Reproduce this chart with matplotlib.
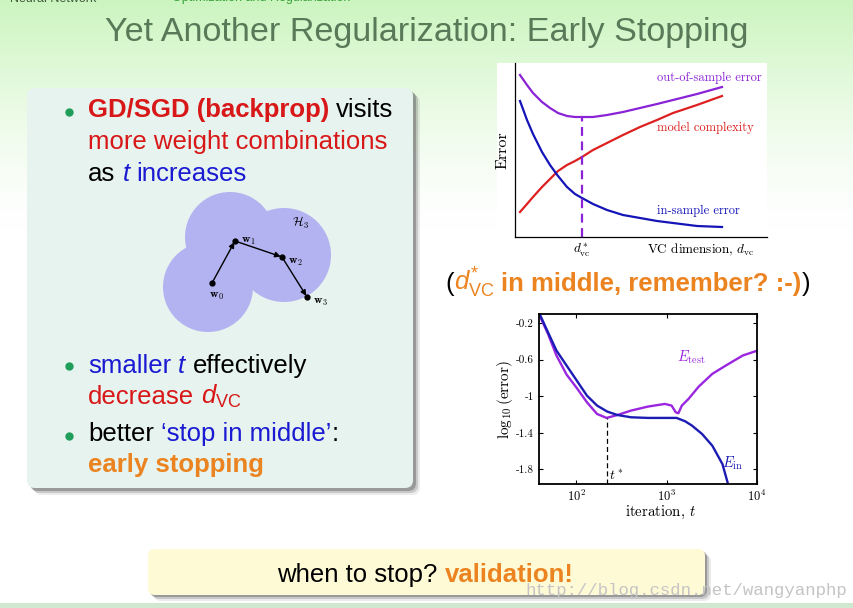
import numpy as np
import matplotlib
matplotlib.use('Agg')
import matplotlib.pyplot as plt
from matplotlib.patches import FancyBboxPatch, Circle, Rectangle

plt.rcParams['mathtext.fontset'] = 'cm'
plt.rcParams['mathtext.rm'] = 'Liberation Sans'
plt.rcParams['mathtext.it'] = 'Liberation Sans:italic'
plt.rcParams['mathtext.bf'] = 'Liberation Sans:bold'
plt.rcParams['axes.formatter.use_mathtext'] = True

W, H = 854, 608
SANS = ['Liberation Sans', 'DejaVu Sans']
SERIF = ['cmr10', 'DejaVu Serif']

RED = '#d81818'
BLUE = '#1a1ad2'
ORANGE = '#eb8420'
GREEN_DOT = '#1f9e5a'

# error vs VC dimension (sketch, arbitrary units)
vc_dim = [5, 12, 18, 27, 35, 43, 52, 60, 67, 78, 92, 108, 125, 142, 158, 182, 207]
in_sample = [136, 117, 103, 85, 72, 61, 50, 43, 39, 33, 27, 22, 19, 16, 14, 11, 10]
complexity = [25, 33, 40, 50, 58, 66, 72, 76, 80, 87, 94, 102, 110, 117, 124, 132, 141]
out_sample = [162, 152, 144, 135, 129, 124, 121, 120, 120, 120, 122, 125, 129, 133, 137, 143, 150]
vc_star = 67

# log10(error) vs log10(iteration)
log_iter_test = [1.588, 1.689, 1.783, 1.895, 2.007, 2.120, 2.232, 2.337, 2.457, 2.607,
                 2.794, 2.981, 3.056, 3.101, 3.131, 3.169, 3.243, 3.356, 3.506, 3.655,
                 3.843, 4.030]
err_test = [-0.098, -0.317, -0.554, -0.763, -0.909, -1.066, -1.194, -1.237, -1.205, -1.157,
            -1.113, -1.084, -1.102, -1.175, -1.186, -1.102, -1.029, -0.894, -0.755, -0.664,
            -0.554, -0.492]
log_iter_in = [1.596, 1.689, 1.783, 1.895, 2.007, 2.120, 2.232, 2.345, 2.457, 2.607,
               2.794, 2.981, 3.112, 3.206, 3.281, 3.393, 3.506, 3.618, 3.685]
err_in = [-0.098, -0.299, -0.500, -0.664, -0.828, -0.993, -1.102, -1.168, -1.205, -1.230,
          -1.237, -1.237, -1.237, -1.274, -1.321, -1.413, -1.541, -1.742, -1.979]
log_t_star = 2.337
err_ticks = [-0.2, -0.6, -1, -1.4, -1.8]
err_ticklabels = ['-0.2', '-0.6', '-1', '-1.4', '-1.8']
iter_exponents = [2, 3, 4]

fig = plt.figure(figsize=(W / 100, H / 100), dpi=100)
bg = fig.add_axes([0, 0, 1, 1])
bg.set_xlim(0, W)
bg.set_ylim(H, 0)
bg.axis('off')
renderer = fig.canvas.get_renderer()

# background gradient
rows = np.linspace(0, 1, H)[:, None]
fade = np.clip(1 - rows * H / 230, 0, 1) ** 1.4
top = np.array([0.80, 0.96, 0.75])
img = np.ones((H, 2, 3)) - fade[:, :, None] * (1 - top)
bg.imshow(img, extent=(0, W, H, 0), aspect='auto', zorder=0)
bg.add_patch(Rectangle((0, 603), W, 5, color='#cfe8cf', lw=0, zorder=1))

# header line, cut off at the top edge as in the slide
bg.text(10, 1.5, 'Neural Network', fontsize=9, family=SANS, color='#3f5a3f', va='baseline')
bg.text(172, 1.5, 'Optimization and Regularization', fontsize=9, family=SANS,
        color='#3aa23a', va='baseline')


def width_of(s, **kw):
    t = bg.text(0, 0, s, **kw)
    w = t.get_window_extent(renderer).width
    t.remove()
    return w


title = 'Yet Another Regularization: Early Stopping'
title_size = 28 * 643 / width_of(title, fontsize=28, family=SANS)
bg.text(427, 41, title, ha='center', va='baseline', fontsize=title_size,
        family=SANS, color='#587a58')


def rbox(x0, y0, x1, y1, r, **kw):
    return FancyBboxPatch((x0 + r, y0 + r), x1 - x0 - 2 * r, y1 - y0 - 2 * r,
                          boxstyle='round,pad=%g' % r, **kw)


# left box with shadow
for off, a in [(7, 0.12), (5, 0.25), (3, 0.45)]:
    bg.add_patch(rbox(27 + off, 88 + off, 413 + off, 488 + off, 8,
                      fc='#606060', ec='none', alpha=a, zorder=2))
bg.add_patch(rbox(27, 88, 413, 488, 8, fc='#e6f3ee', ec='none', zorder=3))

# banner with shadow
for off, a in [(6, 0.12), (4, 0.25), (2, 0.45)]:
    bg.add_patch(rbox(148 + off, 549 + off, 705 + off, 595 + off, 7,
                      fc='#606060', ec='none', alpha=a, zorder=2))
bg.add_patch(rbox(148, 549, 705, 595, 7, fc='#fffad6', ec='none', zorder=3))


def rich(x, y, parts, size):
    for p in parts:
        s, color = p[0], p[1]
        opt = dict(p[2]) if len(p) > 2 else {}
        kw = dict(fontsize=size, family=SANS, color=color, **opt)
        sp = width_of('a a', **kw) - width_of('aa', **kw)
        x += (len(s) - len(s.lstrip(' '))) * sp
        core = s.strip(' ')
        t = bg.text(x, y, core, va='baseline', ha='left', zorder=6, **kw)
        x += t.get_window_extent(renderer).width + (len(s) - len(s.rstrip(' '))) * sp
    return x


B = {'fontweight': 'bold'}
I = {'fontstyle': 'italic'}
M = {'math_fontfamily': 'custom'}
FS = 18.5
for yb in [112, 366, 436]:
    bg.plot(69, yb, 'o', ms=5, color=GREEN_DOT, zorder=6)
rich(88, 117, [('GD/SGD (backprop)', RED, B), (' visits', 'black')], FS)
rich(88, 149, [('more weight combinations', RED)], FS)
rich(88, 181, [('as ', 'black'), ('t', BLUE, I), (' increases', BLUE)], FS)
rich(88, 373, [('smaller ', BLUE), ('t', BLUE, I), (' effectively', 'black')], FS)
rich(88, 404, [('decrease ', RED), (r'$d_{\mathrm{VC}}$', RED, M)], FS)
rich(88, 441, [('better ', 'black'), ('\u2018stop in middle\u2019', BLUE), (':', 'black')], FS)
rich(88, 472, [('early stopping', ORANGE, B)], FS)

rich(445, 291, [('(', 'black'), (r'$d^{*}_{\mathrm{VC}}$', ORANGE, M),
                (' in middle, remember? :-)', ORANGE, B), (')', 'black')], FS)

rich(277, 582, [('when to stop? ', 'black'), ('validation!', ORANGE, B)], FS)

# hypothesis-set diagram
for cx, cy, r in [(230, 237, 45), (208, 287, 45), (284, 255, 47)]:
    bg.add_patch(Circle((cx, cy), r, fc='#b3b3f1', ec='none', zorder=4))
px = [212, 235, 282, 307]
py = [283, 241, 257, 297]
for i in range(3):
    bg.annotate('', xy=(px[i + 1], py[i + 1]), xytext=(px[i], py[i]),
                arrowprops=dict(arrowstyle='-|>', color='black', lw=1.0,
                                mutation_scale=8, shrinkA=0, shrinkB=1), zorder=5)
bg.plot(px, py, 'o', ms=3.5, color='black', zorder=5)
for i, (dx, dy) in enumerate([(-3, 12), (6, -1), (6, 4), (6, 5)]):
    bg.text(px[i] + dx, py[i] + dy, r'$\mathbf{w}_%d$' % i, fontsize=8.5,
            va='center', ha='left', zorder=6)
bg.text(292, 223, r'$\mathcal{H}_3$', fontsize=9, va='center', ha='left', zorder=6)

# top-right chart
bg.add_patch(Rectangle((497, 63), 270, 199, fc='white', ec='none', zorder=3))
ax1 = fig.add_axes([515 / W, 1 - 237 / H, 252 / W, 174 / H])
ax1.patch.set_alpha(0)
P1, R1, B1 = '#8a22d6', '#dd2020', '#1414b8'
ax1.plot(vc_dim, out_sample, color=P1, lw=1.6)
ax1.plot(vc_dim, complexity, color=R1, lw=1.6)
ax1.plot(vc_dim, in_sample, color=B1, lw=1.6)
ax1.plot([vc_star, vc_star], [0, out_sample[vc_dim.index(vc_star)]], ls=(0, (4, 2.5)),
         color=P1, lw=1.6)
ax1.set_xlim(0, 252)
ax1.set_ylim(0, 174)
ax1.set_xticks([])
ax1.set_yticks([])
for s in ['top', 'right']:
    ax1.spines[s].set_visible(False)
for s in ['left', 'bottom']:
    ax1.spines[s].set_linewidth(0.9)
ax1.text(142, 159, 'out-of-sample error', color=P1, family=SERIF, fontsize=9, va='center')
ax1.text(142, 109, 'model complexity', color=R1, family=SERIF, fontsize=9, va='center')
ax1.text(142, 26, 'in-sample error', color=B1, family=SERIF, fontsize=9, va='center')
bg.text(503, 150, 'Error', rotation=90, family=SERIF, fontsize=11.5, ha='center',
        va='center', zorder=6)
bg.text(647, 250, r'VC dimension, $d_{\rm vc}$', family=SERIF, fontsize=9.5,
        va='center', zorder=6)
bg.text(582, 250, r'$d^*_{\rm vc}$', fontsize=9.5, ha='center', va='center', zorder=6)

# bottom-right chart
P2, B2 = '#9a26e0', '#1c1cb4'
ax2 = fig.add_axes([539 / W, 1 - 484 / H, 218 / W, 170 / H])
ax2.patch.set_alpha(0)
ax2.semilogx(10 ** np.array(log_iter_test), err_test, color=P2, lw=1.7)
ax2.semilogx(10 ** np.array(log_iter_in), err_in, color=B2, lw=1.7)
ax2.plot([10 ** log_t_star] * 2, [-1.96, -1.237], ls=(0, (4, 2.5)), color='black', lw=0.9)
ax2.set_xlim(10 ** 1.59, 1e4)
ax2.set_ylim(-1.96, -0.10)
ax2.set_xticks([10.0 ** e for e in iter_exponents])
ax2.set_xticklabels([r'$10^{%d}$' % e for e in iter_exponents], fontsize=9)
ax2.set_yticks(err_ticks)
ax2.set_yticklabels(err_ticklabels, family=SERIF, fontsize=8)
ax2.minorticks_off()
ax2.tick_params(direction='in', top=True, right=True, length=3, width=0.8)
for s in ax2.spines.values():
    s.set_linewidth(1.3)
ax2.text(10 ** 3.27, -0.572, r'$E_{\rm test}$', color=P2, fontsize=10.5, ha='center',
         va='center')
ax2.text(10 ** 3.73, -1.73, r'$E_{\rm in}$', color=B2, fontsize=10.5, ha='center',
         va='center')
ax2.text(10 ** 2.36, -1.87, r'$t^*$', fontsize=10, ha='left', va='center')
bg.text(505, 400, r'$\log_{10}$(error)', rotation=90, family=SERIF, fontsize=11,
        ha='center', va='center', zorder=6)
bg.text(661, 512, r'iteration, $t$', family=SERIF, fontsize=10.7, ha='center',
        va='center', zorder=6)

# watermark
bg.text(525, 595, 'http://blog.csdn.net/wangyanphp', family=['Liberation Mono', 'DejaVu Sans Mono'],
        fontsize=12.5, color='#c4c4c4', va='baseline', zorder=7)

fig.savefig('out.png', dpi=100)
